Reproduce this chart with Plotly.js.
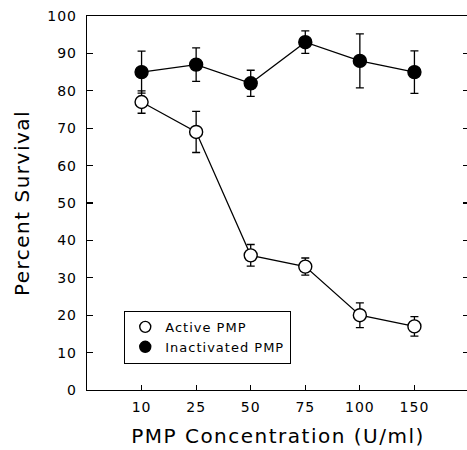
<!DOCTYPE html>
<html>
<head>
<meta charset="utf-8">
<script src="https://cdn.plot.ly/plotly-3.0.1.min.js"></script>
<style>
html, body { margin: 0; padding: 0; overflow: hidden; background: #fff; }
#chart { width: 471px; height: 450px; }
text.xtitle, text.ytitle { letter-spacing: 1.5px; }
g.xtick text, g.ytick text, text.legendtext { letter-spacing: 1px; }
</style>
</head>
<body>
<div id="chart"></div>
<script>
var concentrations = ['10', '25', '50', '75', '100', '150'];
var activeSurvival = [77, 69, 36, 33, 20, 17];
var activeError = [3.0, 5.5, 2.9, 2.3, 3.3, 2.6];
var inactivatedSurvival = [85, 87, 82, 93, 88, 85];
var inactivatedError = [5.6, 4.5, 3.5, 3.0, 7.2, 5.7];
var yTicks = [0, 10, 20, 30, 40, 50, 60, 70, 80, 90, 100];

var fontFam = 'DejaVu Sans, Liberation Sans, Arial, sans-serif';

function seriesTrace(y, err, fill) {
  return {
    x: concentrations, y: y, type: 'scatter', mode: 'lines+markers',
    showlegend: false,
    line: { color: '#000', width: 1.2 },
    marker: { symbol: 'circle', size: 13, color: fill, line: { color: '#000', width: 1.4 } },
    error_y: { type: 'data', array: err, visible: true, color: '#000', thickness: 1.3, width: 4 },
    hoverinfo: 'skip'
  };
}
function legendTrace(name, fill) {
  return {
    x: [null], y: [null], type: 'scatter', mode: 'markers', name: name,
    marker: { symbol: 'circle', size: 11, color: fill, line: { color: '#000', width: 1.4 } }
  };
}

var data = [
  seriesTrace(inactivatedSurvival, inactivatedError, '#000'),
  seriesTrace(activeSurvival, activeError, '#fff'),
  legendTrace('Active PMP', '#fff'),
  legendTrace('Inactivated PMP', '#000')
];

var layout = {
  width: 471, height: 450,
  margin: { l: 87, r: 2, t: 16, b: 60 },
  paper_bgcolor: '#fff', plot_bgcolor: '#fff',
  font: { family: fontFam, color: '#000', size: 13 },
  showlegend: true,
  legend: {
    x: 0.097, y: 0.212, xanchor: 'left', yanchor: 'top',
    bordercolor: '#000', borderwidth: 1.2, bgcolor: '#fff',
    font: { family: fontFam, size: 13, color: '#000' },
    tracegroupgap: 0, itemwidth: 30
  },
  xaxis: {
    type: 'category', categoryorder: 'array', categoryarray: concentrations,
    range: [-1, 6],
    showline: true, linecolor: '#000', linewidth: 1.2, mirror: true,
    ticks: 'inside', ticklen: 5, tickwidth: 1.2, tickcolor: '#000',
    showgrid: false, zeroline: false,
    ticklabelstandoff: 4,
    tickfont: { family: fontFam, size: 14 },
    title: { text: 'PMP Concentration (U/ml)', font: { family: fontFam, size: 20 }, standoff: 15 }
  },
  yaxis: {
    range: [0, 100], tickmode: 'array', tickvals: yTicks, ticktext: yTicks.map(String),
    showline: true, linecolor: '#000', linewidth: 1.2, mirror: 'ticks',
    ticks: 'inside', ticklen: 6, tickwidth: 1.2, tickcolor: '#000',
    showgrid: false, zeroline: false,
    ticklabelstandoff: 6,
    tickfont: { family: fontFam, size: 14 },
    title: { text: 'Percent Survival', font: { family: fontFam, size: 20 }, standoff: 12 }
  }
};

Plotly.newPlot('chart', data, layout, { displayModeBar: false, staticPlot: true });
</script>
</body>
</html>
